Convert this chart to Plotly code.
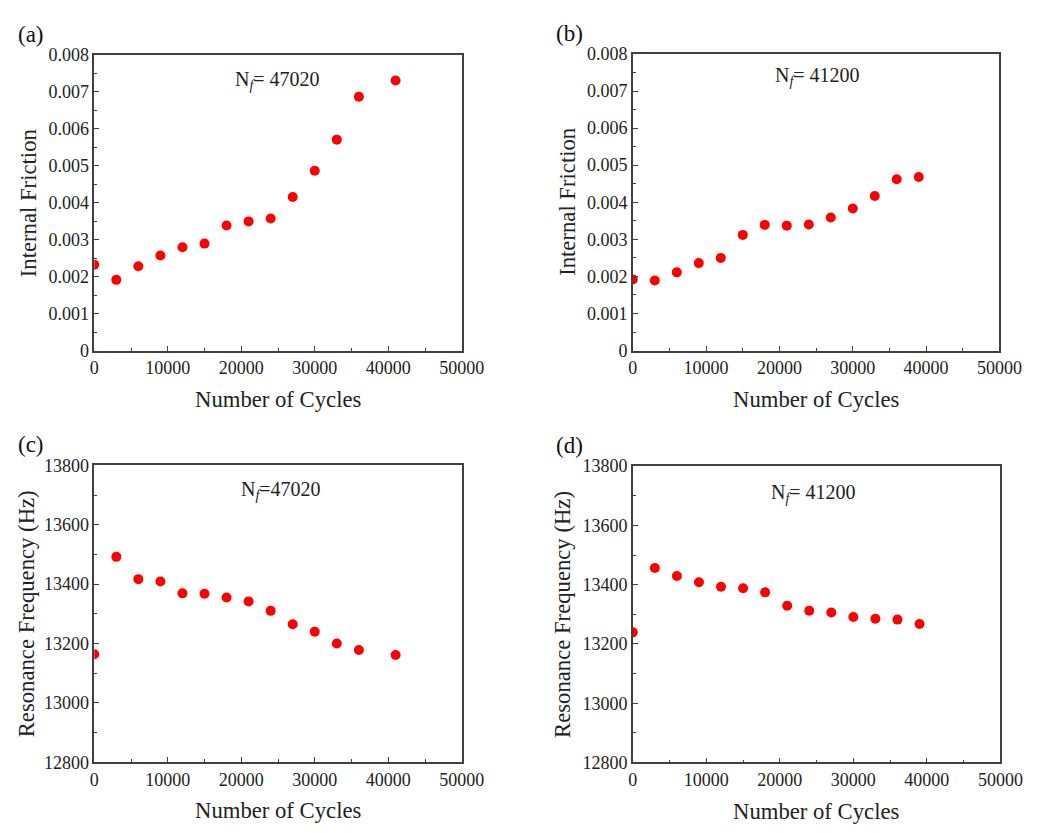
import plotly.graph_objects as go

# ---- data ----
cycles_a = [0, 3000, 6000, 9000, 12000, 15000, 18000, 21000, 24000, 27000, 30000, 33000, 36000, 41000]
friction_a = [0.00233, 0.00192, 0.00229, 0.00258, 0.00280, 0.00290, 0.00339, 0.00350, 0.00358,
              0.00416, 0.00487, 0.00571, 0.00687, 0.00731]

cycles_b = [0, 3000, 6000, 9000, 12000, 15000, 18000, 21000, 24000, 27000, 30000, 33000, 36000, 39000]
friction_b = [0.00192, 0.00189, 0.00211, 0.00236, 0.00250, 0.00312, 0.00339, 0.00337, 0.00340,
              0.00359, 0.00383, 0.00417, 0.00462, 0.00468]

cycles_c = cycles_a
freq_c = [13164, 13492, 13417, 13409, 13369, 13368, 13355, 13342, 13310, 13265, 13240, 13200, 13178, 13161]

cycles_d = cycles_b
freq_d = [13239, 13456, 13429, 13408, 13393, 13388, 13374, 13329, 13312, 13306, 13291, 13285, 13282, 13267]

panel_labels = ["(a)", "(b)", "(c)", "(d)"]
nf_texts = ["N<sub><i>f</i></sub>= 47020", "N<sub><i>f</i></sub>= 41200",
            "N<sub><i>f</i></sub>=47020", "N<sub><i>f</i></sub>= 41200"]
y_titles = ["Internal Friction", "Internal Friction",
            "Resonance Frequency (Hz)", "Resonance Frequency (Hz)"]
x_title = "Number of Cycles"

FONT = "Liberation Serif, Times New Roman, DejaVu Serif, serif"
W, H = 1049, 833

# panel geometry in pixels: (left, right, top, bottom)
boxes = [(91.7, 469.3, 46, 349.3),
         (645, 1021.7, 45, 349),
         (91.7, 469.3, 466.7, 770.7),
         (645, 1022.7, 467.3, 771)]
nf_pos = [(280, 72), (835, 68), (284, 492), (831, 495)]
ytitle_x = [25, 578, 22, 573]

fig = go.Figure()
series = [(cycles_a, friction_a), (cycles_b, friction_b), (cycles_c, freq_c), (cycles_d, freq_d)]

for i, (xs, ys) in enumerate(series):
    n = "" if i == 0 else str(i + 1)
    fig.add_trace(go.Scatter(x=xs, y=ys, mode="markers", xaxis="x" + n, yaxis="y" + n,
                             marker=dict(color="#ff0000", size=10), showlegend=False))

axis_common = dict(showline=True, linecolor="#404040", linewidth=1.5, mirror=True,
                   ticks="inside", ticklen=5, tickwidth=1.3, tickcolor="#404040",
                   showgrid=False, zeroline=False,
                   tickfont=dict(family=FONT, size=18, color="#222"))

layout = dict(width=W, height=H, autosize=False, margin=dict(l=0, r=0, t=0, b=0),
              paper_bgcolor="white", plot_bgcolor="white",
              font=dict(family=FONT, color="#222"))

annotations = []
for i, (l, r, t, b) in enumerate(boxes):
    n = "" if i == 0 else str(i + 1)
    xd = [l / W, r / W]
    yd = [1 - b / H, 1 - t / H]
    xa = dict(axis_common, domain=xd, range=[0, 50000], dtick=10000, tick0=0,
              tickformat="d", anchor="y" + n,
              minor=dict(ticks="inside", dtick=5000, ticklen=3, tickcolor="#404040", tickwidth=1.2))
    if i < 2:
        ya = dict(axis_common, domain=yd, range=[0, 0.008], dtick=0.001, tick0=0,
                  tickformat=".3~f", anchor="x" + n,
                  minor=dict(ticks="inside", dtick=0.0005, ticklen=3, tickcolor="#404040", tickwidth=1.2))
    else:
        ya = dict(axis_common, domain=yd, range=[12800, 13800], dtick=200, tick0=12800,
                  tickformat="d", anchor="x" + n,
                  minor=dict(ticks="inside", dtick=100, ticklen=3, tickcolor="#404040", tickwidth=1.2))
    layout["xaxis" + n] = xa
    layout["yaxis" + n] = ya

    # panel letter
    annotations.append(dict(text=panel_labels[i], xref="paper", yref="paper",
                            x=(l - 65) / W, y=1 - (t - 21) / H, showarrow=False,
                            xanchor="center", yanchor="middle",
                            font=dict(family=FONT, size=23, color="#111")))
    # Nf annotation
    annotations.append(dict(text=nf_texts[i], xref="paper", yref="paper",
                            x=nf_pos[i][0] / W, y=1 - nf_pos[i][1] / H, showarrow=False,
                            xanchor="center", yanchor="middle",
                            font=dict(family=FONT, size=20, color="#222")))
    # y title
    annotations.append(dict(text=y_titles[i], xref="paper", yref="paper",
                            x=ytitle_x[i] / W, y=1 - ((t + b) / 2) / H, showarrow=False,
                            textangle=-90, xanchor="center", yanchor="middle",
                            font=dict(family=FONT, size=22.7, color="#222")))
    # x title
    annotations.append(dict(text=x_title, xref="paper", yref="paper",
                            x=((l + r) / 2) / W, y=1 - (b + 50) / H, showarrow=False,
                            xanchor="center", yanchor="middle",
                            font=dict(family=FONT, size=22.7, color="#222")))

layout["annotations"] = annotations
fig.update_layout(**layout)
fig.write_html("out.html", config={"displayModeBar": False},
               post_script="document.body.style.margin='0';document.body.style.padding='0';"
                           "document.body.style.overflow='hidden';")
